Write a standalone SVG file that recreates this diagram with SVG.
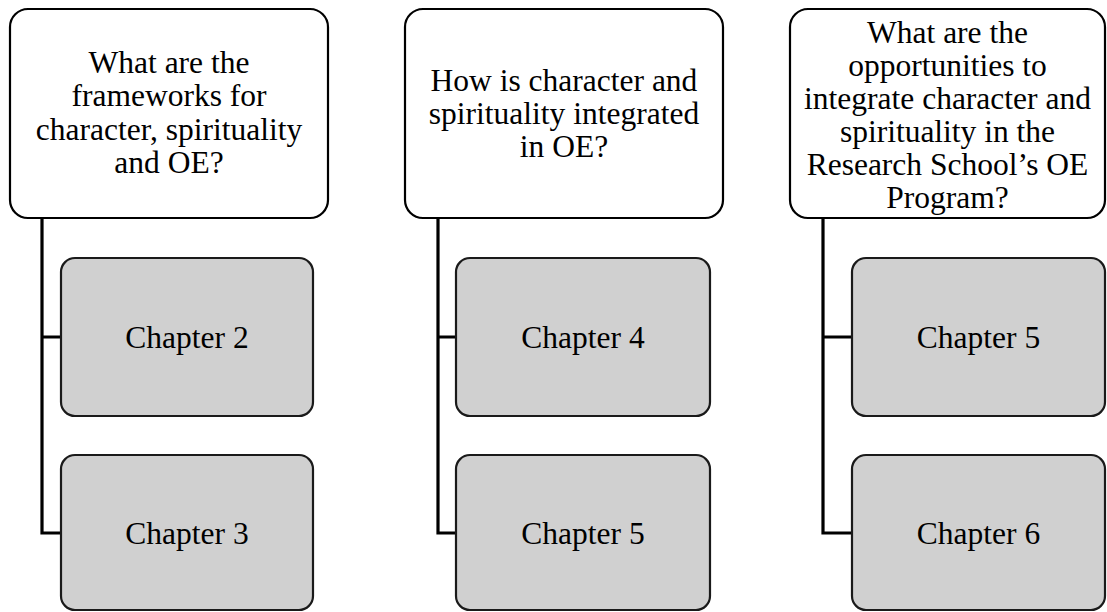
<svg xmlns="http://www.w3.org/2000/svg" width="1107" height="612" viewBox="0 0 1107 612">
<style>
.q{fill:#ffffff;stroke:#000000;stroke-width:2.2}
.c{fill:#d0d0d0;stroke:#1a1a1a;stroke-width:2.2}
.t{font-family:"Liberation Serif","Times New Roman",serif;font-size:31.5px;fill:#000000;text-anchor:middle}
.ln{fill:none;stroke:#000000;stroke-width:3.2}
</style>
<rect width="1107" height="612" fill="#ffffff"/>
<g id="connectors">
<path class="ln" d="M42,218 V533 H61 M42,337 H61"/>
<path class="ln" d="M438,218 V533 H456 M438,337 H456"/>
<path class="ln" d="M823,218 V533 H852 M823,337 H852"/>
</g>
<g id="q1">
<rect class="q" x="10" y="9" width="318" height="209" rx="18"/>
<text class="t" x="169" y="73">What are the</text>
<text class="t" x="169" y="106">frameworks for</text>
<text class="t" x="169" y="140">character, spirituality</text>
<text class="t" x="169" y="173">and OE?</text>
</g>
<g id="q2">
<rect class="q" x="405" y="9" width="318" height="209" rx="18"/>
<text class="t" x="564" y="91">How is character and</text>
<text class="t" x="564" y="124">spirituality integrated</text>
<text class="t" x="564" y="157">in OE?</text>
</g>
<g id="q3">
<rect class="q" x="790" y="9" width="315" height="209" rx="18"/>
<text class="t" x="947.5" y="43">What are the</text>
<text class="t" x="947.5" y="76">opportunities to</text>
<text class="t" x="947.5" y="109">integrate character and</text>
<text class="t" x="947.5" y="142">spirituality in the</text>
<text class="t" x="947.5" y="175">Research School’s OE</text>
<text class="t" x="947.5" y="208">Program?</text>
</g>
<g id="ch2">
<rect class="c" x="61" y="258" width="252" height="158" rx="14"/>
<text class="t" x="187" y="348">Chapter 2</text>
</g>
<g id="ch3">
<rect class="c" x="61" y="455" width="252" height="155" rx="14"/>
<text class="t" x="187" y="544">Chapter 3</text>
</g>
<g id="ch4">
<rect class="c" x="456" y="258" width="254" height="158" rx="14"/>
<text class="t" x="583" y="348">Chapter 4</text>
</g>
<g id="ch5a">
<rect class="c" x="456" y="455" width="254" height="155" rx="14"/>
<text class="t" x="583" y="544">Chapter 5</text>
</g>
<g id="ch5b">
<rect class="c" x="852" y="258" width="253" height="158" rx="14"/>
<text class="t" x="978.5" y="348">Chapter 5</text>
</g>
<g id="ch6">
<rect class="c" x="852" y="455" width="253" height="155" rx="14"/>
<text class="t" x="978.5" y="544">Chapter 6</text>
</g>
</svg>
